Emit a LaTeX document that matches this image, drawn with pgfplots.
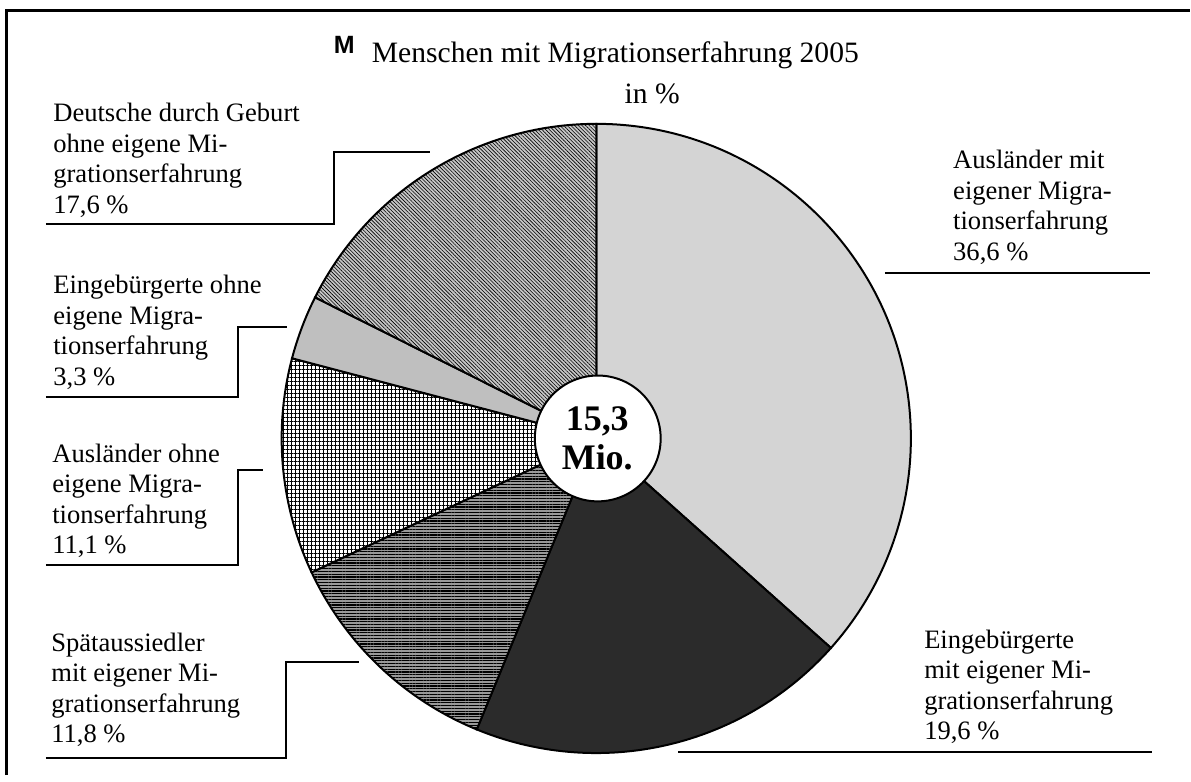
\documentclass[border=0pt]{standalone}
\usepackage{fontspec}
\setmainfont{Liberation Serif}
\newfontfamily\arial{Liberation Sans}
\usepackage{pgfplots}
\pgfplotsset{compat=1.18}
\usetikzlibrary{patterns.meta}

% pie shares in percent, drawn clockwise from 12 o'clock
\newcommand\cum{0}
\newcommand\slice[2]{%
  \pgfmathsetmacro\sa{90-3.6*\cum}%
  \pgfmathsetmacro\cumnew{\cum+#1}%
  \pgfmathsetmacro\se{90-3.6*\cumnew}%
  \xdef\cum{\cumnew}%
  \edef\tmp{\noexpand\filldraw[line width=1pt, #2] (axis cs:597,439) -- ++(\sa:157.5pt)
    arc[start angle=\sa, end angle=\se, radius=157.5pt] -- cycle;}%
  \tmp}
% label: x, first baseline, four lines
\newcommand\lab[6]{%
  \node[anchor=base west, inner sep=0, font=\lbl] at (axis cs:#1,#2) {#3};
  \node[anchor=base west, inner sep=0, font=\lbl] at (axis cs:#1,{#2+30.5}) {#4};
  \node[anchor=base west, inner sep=0, font=\lbl] at (axis cs:#1,{#2+61}) {#5};
  \node[anchor=base west, inner sep=0, font=\lbl] at (axis cs:#1,{#2+91.5}) {#6};}
\newcommand\lbl{\fontsize{13.3}{15}\selectfont}

\begin{document}
\begin{tikzpicture}
  \begin{axis}[
    x=0.5pt, y=0.5pt, scale only axis,
    xmin=0, xmax=1191, ymin=0, ymax=776, y dir=reverse,
    hide axis, clip=false,
  ]
    \path (axis cs:0,0) rectangle (axis cs:1191,776);
    % frame
    \draw[line width=1.5pt] (axis cs:7,776) -- (axis cs:7,11) -- (axis cs:1191,11);

    % slices
    \slice{36.6}{fill=black!17}
    \slice{19.6}{fill=black!83}
    \slice{11.8}{preaction={fill=black!40}, pattern={Lines[angle=0,distance=1.4pt,line width=0.6pt]}, pattern color=black}
    \slice{11.1}{preaction={fill=white}, pattern={Hatch[angle=0,distance=2pt,line width=0.22pt]}, pattern color=black}
    \slice{3.3}{fill=black!25}
    \slice{17.6}{preaction={fill=black!22}, pattern={Lines[angle=-45,distance=1.3pt,line width=0.3pt]}, pattern color=black}

    % centre
    \filldraw[fill=white, line width=1pt] (axis cs:598.5,439) circle[radius=31.5pt];
    \node[anchor=base, inner sep=0, font=\fontsize{18}{20}\selectfont\bfseries] at (axis cs:598,431) {15,3};
    \node[anchor=base, inner sep=0, font=\fontsize{18}{20}\selectfont\bfseries] at (axis cs:598,470) {Mio.};

    % title
    \node[anchor=base west, inner sep=0, font=\arial\bfseries\fontsize{12.5}{14}\selectfont] at (axis cs:334,54) {M};
    \node[anchor=base west, inner sep=0, font=\fontsize{14.8}{17}\selectfont] at (axis cs:372,63) {Menschen mit Migrationserfahrung 2005};
    \node[anchor=base, inner sep=0, font=\fontsize{14.8}{17}\selectfont] at (axis cs:653,104) {in \%};

    % leader lines
    \draw[line width=1pt] (axis cs:46,224) -- (axis cs:334,224) -- (axis cs:334,152) -- (axis cs:431,152);
    \draw[line width=1pt] (axis cs:46,398) -- (axis cs:238,398) -- (axis cs:238,327) -- (axis cs:287,327);
    \draw[line width=1pt] (axis cs:46,566) -- (axis cs:238,566) -- (axis cs:238,471) -- (axis cs:263,471);
    \draw[line width=1pt] (axis cs:46,759) -- (axis cs:286,759) -- (axis cs:286,663) -- (axis cs:359,663);
    \draw[line width=1pt] (axis cs:886,273) -- (axis cs:1151,273);
    \draw[line width=1pt] (axis cs:679,753) -- (axis cs:1153,753);

    % labels
    \lab{53}{122}{Deutsche durch Geburt}{ohne eigene Mi-}{grationserfahrung}{17,6 \%}
    \lab{53}{294}{Eingebürgerte ohne}{eigene Migra-}{tionserfahrung}{3,3 \%}
    \lab{52}{463}{Ausländer ohne}{eigene Migra-}{tionserfahrung}{11,1 \%}
    \lab{51}{652}{Spätaussiedler}{mit eigener Mi-}{grationserfahrung}{11,8 \%}
    \lab{954}{169}{Ausländer mit}{eigener Migra-}{tionserfahrung}{36,6 \%}
    \lab{925}{649}{Eingebürgerte}{mit eigener Mi-}{grationserfahrung}{19,6 \%}
  \end{axis}
\end{tikzpicture}
\end{document}
